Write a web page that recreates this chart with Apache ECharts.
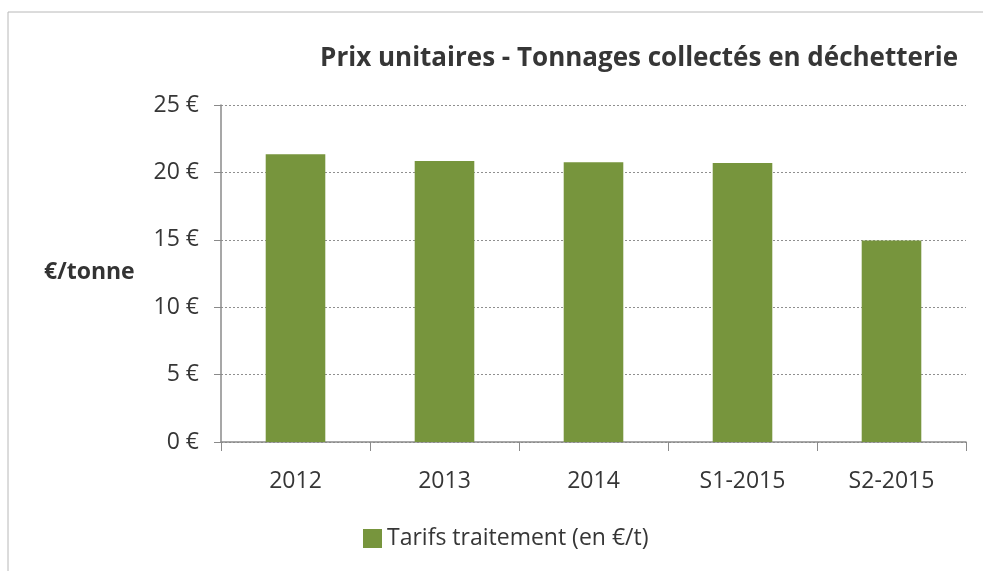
<!DOCTYPE html>
<html><head><meta charset="utf-8">
<script src="https://cdn.jsdelivr.net/npm/echarts@6/dist/echarts.min.js"></script>
<style>html,body{margin:0;padding:0;background:#fff}#c{width:983px;height:571px}</style>
</head><body><div id="c"></div>
<script>
const categories = ['2012', '2013', '2014', 'S1-2015', 'S2-2015'];
const tarifs = [21.35, 20.85, 20.75, 20.7, 14.95];
const seriesName = 'Tarifs traitement (en €/t)';
const titleText = 'Prix unitaires - Tonnages collectés en déchetterie';
const yName = '€/tonne';

const chart = echarts.init(document.getElementById('c'), null, {renderer: 'canvas'});
const font = 'Open Sans';
chart.setOption({
  animation: false,
  backgroundColor: '#fff',
  graphic: [{
    type: 'rect', shape: {x: 8, y: 12, width: 1000, height: 600},
    style: {fill: 'none', stroke: '#b8b8b8', lineWidth: 1}, silent: true
  }, {
    type: 'text', left: 44, top: 261,
    style: {text: yName, font: 'bold 23px "Open Sans"', fill: '#333'}
  }],
  title: {
    text: titleText, right: 20, top: 41,
    textStyle: {fontFamily: font, fontWeight: 'bold', fontSize: 26, color: '#363636'}
  },
  grid: {left: 221, right: 17, top: 105, bottom: 129, containLabel: false},
  legend: {
    data: [seriesName], bottom: 16, left: 358,
    itemWidth: 19, itemHeight: 19, itemGap: 6,
    icon: 'rect',
    textStyle: {fontFamily: font, fontSize: 23, color: '#363636'}
  },
  xAxis: {
    type: 'category', data: categories,
    axisLine: {lineStyle: {color: '#8a8a8a', width: 1.5}},
    axisTick: {show: true, length: 9, lineStyle: {color: '#8a8a8a'}},
    axisLabel: {fontFamily: font, fontSize: 23, color: '#363636', margin: 28}
  },
  yAxis: {
    type: 'value', min: 0, max: 25, interval: 5,
    axisLine: {show: true, lineStyle: {color: '#8a8a8a', width: 1.5}},
    axisTick: {show: true, length: 7, lineStyle: {color: '#8a8a8a'}},
    axisLabel: {fontFamily: font, fontSize: 23, color: '#363636', margin: 22, formatter: v => v + ' €'},
    splitLine: {lineStyle: {color: '#8f8f8f', type: [2, 2], width: 1}}
  },
  series: [{
    name: seriesName, type: 'bar', data: tarifs, barWidth: '40%',
    itemStyle: {color: '#77953d'}
  }]
});
</script></body></html>
